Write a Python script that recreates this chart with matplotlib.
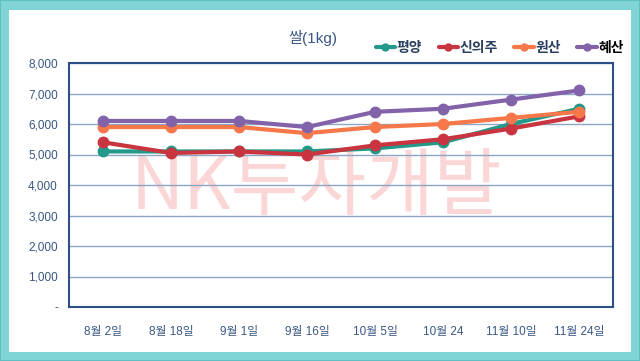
import matplotlib.pyplot as plt
from matplotlib.patches import Rectangle
from matplotlib.ticker import FuncFormatter

plt.rcParams['font.family'] = ['Liberation Sans', 'Noto Sans CJK KR', 'DejaVu Sans']

dates = ['8월 2일', '8월 18일', '9월 1일', '9월 16일', '10월 5일', '10월 24', '11월 10일', '11월 24일']
pyongyang = [5100, 5100, 5100, 5100, 5200, 5400, 6000, 6500]
sinuiju = [5400, 5050, 5100, 5000, 5300, 5500, 5850, 6250]
wonsan = [5900, 5900, 5900, 5700, 5900, 6000, 6200, 6400]
hyesan = [6100, 6100, 6100, 5900, 6400, 6500, 6800, 7100]

series = [
    ('평양', pyongyang, '#22998a'),
    ('신의주', sinuiju, '#c9343f'),
    ('원산', wonsan, '#f6774a'),
    ('혜산', hyesan, '#8262a8'),
]

txt = '#3a5785'

fig = plt.figure(figsize=(6.4, 3.61), dpi=100)
# teal frame around the whole picture
fig.patches.append(Rectangle((0, 0), 1, 1, transform=fig.transFigure,
                             facecolor='#80d4d6', edgecolor='#5fbfc2', linewidth=1.5, zorder=-2))
fig.patches.append(Rectangle((9 / 640, 9 / 361), 1 - 18 / 640, 1 - 19 / 361,
                             transform=fig.transFigure, facecolor='white',
                             edgecolor='none', zorder=-1))

ax = fig.add_axes([69 / 640, 1 - 307 / 361, 544 / 640, 244 / 361])
x = range(len(dates))
for name, vals, col in series:
    ax.plot(x, vals, color=col, linewidth=3, marker='o', markersize=7.5,
            label=name, solid_capstyle='round', zorder=3)

ax.set_xlim(-0.5, len(dates) - 0.5)
ax.set_ylim(0, 8000)
ax.set_yticks(range(0, 8001, 1000))
ax.yaxis.set_major_formatter(FuncFormatter(lambda v, p: '-' if v == 0 else f'{int(v):,}'))
ax.set_xticks(list(x))
ax.set_xticklabels(dates)
ax.tick_params(axis='both', length=0, labelsize=8.5, labelcolor=txt)
ax.tick_params(axis='x', pad=14)
ax.tick_params(axis='y', pad=8)
ax.grid(axis='y', color='#8ea6c6', linewidth=1)
ax.set_axisbelow(True)
for s in ax.spines.values():
    s.set_color('#2e4f85')
    s.set_linewidth(1.5)

fig.text(313 / 640, 1 - 38 / 361, '쌀(1kg)', ha='center', va='center', fontsize=11, color=txt)

leg = ax.legend(loc='lower right', bbox_to_anchor=(1.03, 1.01), ncol=4, frameon=False,
                fontsize=10, handlelength=1.4, handletextpad=0.1, columnspacing=1.2,
                borderaxespad=0)
for t in leg.get_texts():
    t.set_fontweight('bold')
    t.set_color('#2a3f5f')
leg.get_texts()[-1].set_color('black')
for h in leg.legend_handles:
    h.set_markersize(5)
    h.set_linewidth(3)

# watermark, behind the lines
fig.text(316 / 640, 1 - 188 / 361, 'NK투자개발', ha='center', va='center', fontsize=53,
         color='#f58a8a', alpha=0.35, zorder=1, family=['Noto Sans CJK KR'])
ax.set_zorder(2)
ax.patch.set_alpha(0)

fig.savefig('out.png', dpi=100)
